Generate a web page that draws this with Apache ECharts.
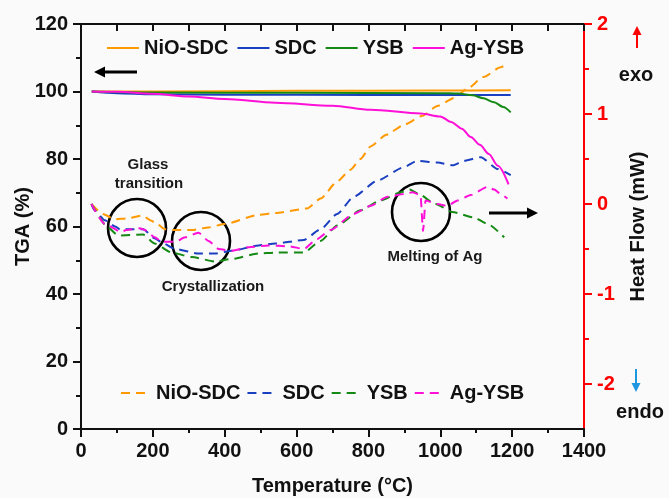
<!DOCTYPE html>
<html>
<head>
<meta charset="utf-8">
<script src="https://cdn.jsdelivr.net/npm/echarts@6/dist/echarts.min.js"></script>
<style>
  html, body { margin: 0; padding: 0; background: #fafafa; }
  #chart { width: 669px; height: 498px; }
</style>
</head>
<body>
<div id="chart"></div>
<script>
// TGA curves (left axis, %), [temperature °C, mass %]
const tgaNiOSDC = [[30, 100], [200, 100], [600, 100.2], [1000, 100.3], [1196, 100.4]]
const tgaSDC = [[30, 100], [100, 99.5], [200, 99.2], [400, 99.05], [800, 99.0], [1196, 98.95]]
const tgaYSB = [[30, 100], [200, 99.7], [600, 99.6], [1000, 99.5], [1050, 99.4], [1090, 98.9], [1120, 98.0], [1150, 96.8], [1175, 95.4], [1196, 93.8]]
const tgaAgYSB = [[30, 100], [100, 99.9], [200, 99.3], [300, 98.5], [400, 97.8], [541, 96.7], [700, 95.8], [806, 94.6], [945, 93.5],
  [1000, 92.6], [1030, 91.0], [1060, 89.0], [1085, 86.5], [1110, 84.2], [1135, 81.5], [1160, 78.0], [1190, 72.5]]

// DSC curves (right axis, mW), [temperature °C, heat flow]
const dscNiOSDC = [[29, 0], [61, -0.11], [94, -0.17], [130, -0.16], [168, -0.13], [205, -0.2], [233, -0.28], [261, -0.29], [309, -0.29],
  [355, -0.26], [402, -0.22], [494, -0.12], [541, -0.1], [629, -0.05], [667, 0.06], [713, 0.25], [750, 0.38], [778, 0.5], [806, 0.64],
  [850, 0.77], [899, 0.88], [950, 0.98], [992, 1.09], [1040, 1.18], [1075, 1.28], [1120, 1.41], [1168, 1.52], [1185, 1.55]]
const dscSDC = [[29, 0], [38, -0.07], [66, -0.18], [95, -0.25], [112, -0.29], [126, -0.28], [173, -0.28], [205, -0.38], [230, -0.44],
  [262, -0.5], [327, -0.55], [374, -0.55], [420, -0.52], [494, -0.46], [541, -0.44], [620, -0.4], [667, -0.28], [713, -0.11], [759, 0.08],
  [825, 0.26], [899, 0.41], [936, 0.48], [992, 0.46], [1035, 0.43], [1066, 0.48], [1113, 0.52], [1159, 0.39], [1196, 0.32]]
const dscYSB = [[29, 0], [75, -0.26], [103, -0.35], [173, -0.34], [205, -0.44], [253, -0.54], [309, -0.59], [374, -0.64], [420, -0.61],
  [494, -0.55], [541, -0.54], [620, -0.54], [667, -0.41], [713, -0.24], [778, -0.07], [834, 0.04], [890, 0.13], [915, 0.16], [936, 0.12],
  [987, 0.0], [1034, -0.09], [1094, -0.15], [1131, -0.22], [1178, -0.37]]
const dscAgYSB = [[29, 0], [66, -0.22], [112, -0.31], [126, -0.29], [164, -0.27], [178, -0.29], [205, -0.37], [225, -0.42], [262, -0.42],
  [290, -0.37], [327, -0.32], [355, -0.41], [383, -0.5], [420, -0.52], [467, -0.48], [522, -0.46], [580, -0.47], [620, -0.5], [657, -0.39],
  [694, -0.29], [759, -0.11], [806, -0.02], [853, 0.08], [899, 0.11], [922, 0.13], [945, 0.1], [952, -0.3], [959, 0.04], [992, 0.0],
  [1020, -0.02], [1048, 0.04], [1085, 0.1], [1131, 0.19], [1150, 0.16], [1168, 0.11], [1187, 0.06]]

const sampleNames = ['NiO-SDC', 'SDC', 'YSB', 'Ag-YSB']
const sampleColors = ['#ff9900', '#1a3fc0', '#148a14', '#ff10d8']
const heatFlowLabels = [-2, -1, 0, 1, 2]
const heatFlowMinor = [-1.5, -0.5, 0.5, 1.5]

const FONT = '"Liberation Sans", Arial, sans-serif'
const INK = '#111'
const RED = '#ff0000'

const chart = echarts.init(document.getElementById('chart'), null, { renderer: 'canvas' })

const tgaData = [tgaNiOSDC, tgaSDC, tgaYSB, tgaAgYSB]
const dscData = [dscNiOSDC, dscSDC, dscYSB, dscAgYSB]

// DSC series get a trailing space so the two legends stay separate
const dscName = (n) => n + ' '
const plain = (v) => String(v)

function arrow(x1, y1, x2, y2, color, width, head) {
  const ang = Math.atan2(y2 - y1, x2 - x1)
  const bx = x2 - Math.cos(ang) * head
  const by = y2 - Math.sin(ang) * head
  const px = -Math.sin(ang) * head * 0.5
  const py = Math.cos(ang) * head * 0.5
  return [
    { type: 'line', shape: { x1, y1, x2: bx, y2: by }, style: { stroke: color, lineWidth: width } },
    { type: 'polygon', shape: { points: [[x2, y2], [bx + px, by + py], [bx - px, by - py]] }, style: { fill: color } }
  ]
}

const noteText = (text, x, y, size, weight) => ({
  type: 'text', x, y,
  style: { text, fill: '#1a1a1a', font: `${weight} ${size}px ${FONT}`, align: 'center', verticalAlign: 'middle' }
})

const ring = (cx, cy) => ({
  type: 'circle', shape: { cx, cy, r: 29 },
  style: { fill: 'none', stroke: '#000', lineWidth: 2.6 }
})

const legendText = { fontSize: 20, fontWeight: 'bold', color: INK, fontFamily: FONT }
const axisText = { fontSize: 20, fontWeight: 'bold', color: INK, fontFamily: FONT }

const option = {
  animation: false,
  backgroundColor: 'transparent',
  grid: { left: 81, right: 85, top: 24, bottom: 69, containLabel: false, outerBoundsMode: 'none' },
  legend: [
    {
      data: sampleNames,
      left: 106, top: 38, padding: 0,
      itemWidth: 32, itemHeight: 14, itemGap: 8,
      itemStyle: { opacity: 0 },
      textStyle: legendText
    },
    {
      data: sampleNames.map(dscName),
      formatter: (n) => n.trim(),
      left: 120, top: 383, padding: 0,
      itemWidth: 30, itemHeight: 14, itemGap: 6,
      itemStyle: { opacity: 0 },
      textStyle: legendText
    }
  ],
  xAxis: [
    {
      type: 'value', min: 0, max: 1400, interval: 200,
      name: 'Temperature (°C)', nameLocation: 'middle', nameGap: 47, nameMoveOverlap: false,
      nameTextStyle: axisText,
      axisLine: { onZero: false, lineStyle: { color: INK, width: 2 } },
      axisTick: { length: 8, lineStyle: { color: INK, width: 2 } },
      minorTick: { show: true, splitNumber: 2, length: 4, lineStyle: { color: INK, width: 2 } },
      splitLine: { show: false },
      axisLabel: { margin: 12, formatter: plain, ...axisText }
    },
    {
      type: 'value', position: 'top', min: 0, max: 1400, interval: 100,
      axisLine: { show: true, onZero: false, lineStyle: { color: INK, width: 2 } },
      axisTick: { show: true, inside: true, length: 7, lineStyle: { color: INK, width: 2 } },
      axisLabel: { show: false },
      splitLine: { show: false }
    }
  ],
  yAxis: [
    {
      type: 'value', position: 'left', min: 0, max: 120, interval: 20,
      name: 'TGA (%)', nameLocation: 'middle', nameGap: 48, nameMoveOverlap: false,
      nameTextStyle: axisText,
      axisLine: { show: true, onZero: false, lineStyle: { color: INK, width: 2 } },
      axisTick: { show: true, length: 8, lineStyle: { color: INK, width: 2 } },
      minorTick: { show: true, splitNumber: 2, length: 5, lineStyle: { color: INK, width: 2 } },
      splitLine: { show: false },
      axisLabel: { margin: 13, formatter: plain, ...axisText }
    },
    {
      type: 'value', position: 'right', min: -2.5, max: 2, interval: 0.5,
      name: 'Heat Flow (mW)', nameLocation: 'middle', nameGap: 44, nameMoveOverlap: false,
      nameTextStyle: axisText,
      axisLine: { show: true, onZero: false, lineStyle: { color: RED, width: 2 } },
      axisTick: { show: true, customValues: heatFlowLabels, length: 8, lineStyle: { color: RED, width: 2 } },
      splitLine: { show: false },
      axisLabel: { customValues: heatFlowLabels, margin: 13, formatter: plain, ...axisText, color: RED }
    },
    {
      type: 'value', position: 'right', min: -2.5, max: 2, interval: 0.5,
      axisLine: { show: false, onZero: false },
      axisTick: { show: true, customValues: heatFlowMinor, length: 5, lineStyle: { color: RED, width: 2 } },
      axisLabel: { show: false },
      splitLine: { show: false }
    }
  ],
  series: [
    ...sampleNames.map((name, i) => ({
      name,
      type: 'line',
      yAxisIndex: 0,
      data: tgaData[i],
      symbol: 'none',
      smooth: 0.3,
      smoothMonotone: 'x',
      lineStyle: { color: sampleColors[i], width: 2 },
      itemStyle: { color: sampleColors[i] },
      z: 3
    })),
    ...sampleNames.map((name, i) => ({
      name: dscName(name),
      type: 'line',
      yAxisIndex: 1,
      data: dscData[i],
      symbol: 'none',
      smooth: 0.2,
      smoothMonotone: 'x',
      lineStyle: { color: sampleColors[i], width: 2, type: [9, 6] },
      itemStyle: { color: sampleColors[i] },
      z: 2
    }))
  ],
  graphic: [
    ring(137, 228),
    ring(201, 241),
    ring(421, 212),
    noteText('Glass', 148, 165, 15, 'bold'),
    noteText('transition', 149, 184, 15, 'bold'),
    noteText('Crystallization', 213, 287, 15, 'bold'),
    noteText('Melting of Ag', 435, 257, 15, 'bold'),
    ...arrow(137, 72, 94, 72, '#000', 3, 11),
    ...arrow(489, 213, 538, 213, '#000', 3, 11),
    ...arrow(637, 48, 637, 26, RED, 2, 9),
    ...arrow(636, 369, 636, 392, '#1e96e0', 2, 9),
    {
      type: 'text', x: 636, y: 75,
      style: { text: 'exo', fill: INK, font: `bold 20px ${FONT}`, align: 'center', verticalAlign: 'middle' }
    },
    {
      type: 'text', x: 640, y: 412,
      style: { text: 'endo', fill: INK, font: `bold 20px ${FONT}`, align: 'center', verticalAlign: 'middle' }
    }
  ]
}

chart.setOption(option)
</script>
</body>
</html>
